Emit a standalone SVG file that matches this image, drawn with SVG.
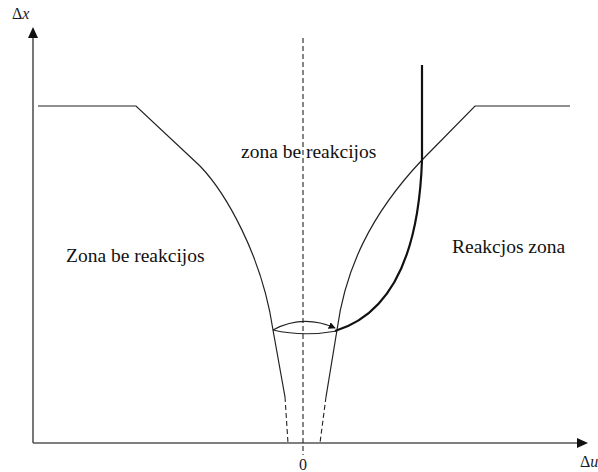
<svg xmlns="http://www.w3.org/2000/svg" width="598" height="472" viewBox="0 0 598 472">
<defs>
<style>
.axis{stroke:#555;stroke-width:1.6;fill:none}
.thin{stroke:#222;stroke-width:1.2;fill:none}
.bold{stroke:#111;stroke-width:2.2;fill:none}
.dash{stroke:#222;stroke-width:1.1;fill:none;stroke-dasharray:5 3}
.lbl{font-family:"Liberation Serif","Times New Roman",serif;font-size:19.5px;fill:#111}
.ax{font-family:"Liberation Serif","Times New Roman",serif;font-size:16px;fill:#1a1a2a}
</style>
<marker id="ah" viewBox="0 0 10 10" refX="9" refY="5" markerWidth="7" markerHeight="7" orient="auto" markerUnits="userSpaceOnUse">
<path d="M0,0 L10,5 L0,10 Z" fill="#111"/>
</marker>
</defs>
<g id="axes">
<line class="axis" x1="33" y1="443" x2="33" y2="36"/>
<path d="M28,38 L33,27 L38,38 Z" fill="#111"/>
<line class="axis" x1="33" y1="443" x2="579" y2="443"/>
<path d="M577,438 L588,443 L577,448 Z" fill="#111"/>
<text class="ax" x="12" y="19">Δ<tspan font-style="italic">x</tspan></text>
<text class="ax" x="580" y="467">Δ<tspan font-style="italic">u</tspan></text>
<text class="ax" x="303" y="470" text-anchor="middle" font-size="12" fill="#b07a30">0</text>
</g>
<g id="connectors">
<line class="dash" x1="303" y1="38" x2="303" y2="455"/>
<path id="left-boundary" class="thin" d="M38,106 H136 L200,166 C225,192 262,255 273,330 L285,397"/>
<path class="dash" d="M285,397 L288,443"/>
<path id="right-boundary" class="thin" d="M337,330 C345,270 370,215 422,160 L475,106 H570"/>
<path class="thin" d="M337,330 L326,397"/>
<path class="dash" d="M326,397 L320,443"/>
<path class="thin" d="M273,330 Q303,337 337,331"/>
<path class="thin" d="M273,330 Q303,314 335,328" stroke-width="1.5" marker-end="url(#ah)"/>
<path id="trajectory" class="bold" d="M335,331 C378,318 418,275 422,160 V65"/>
</g>
<g id="label-left"><text class="lbl" x="66" y="262">Zona be reakcijos</text></g>
<g id="label-center"><text class="lbl" x="241" y="158">zona be reakcijos</text></g>
<g id="label-right"><text class="lbl" x="452" y="253">Reakcjos zona</text></g>
</svg>
